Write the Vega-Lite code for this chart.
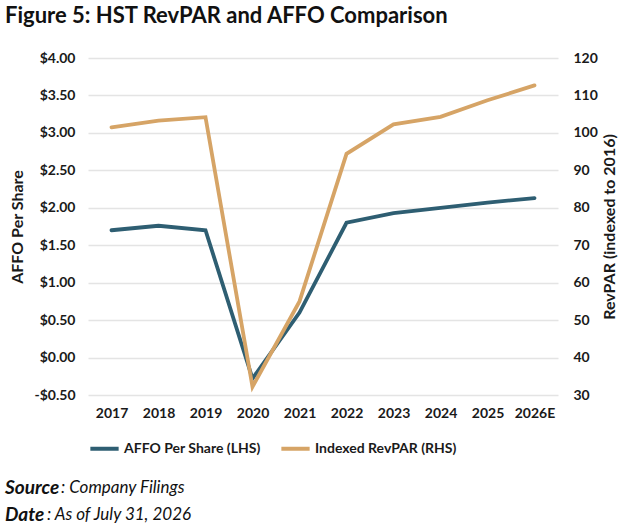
{
  "$schema": "https://vega.github.io/schema/vega-lite/v6.json",
  "background": "white",
  "padding": 5,
  "title": {
    "text": "Figure 5: HST RevPAR and AFFO Comparison",
    "anchor": "start",
    "font": "Lato",
    "fontSize": 22,
    "fontWeight": "bold",
    "color": "#111111",
    "offset": 23
  },
  "config": {
    "view": {"stroke": null},
    "font": "Lato"
  },
  "spacing": 17,
  "resolve": {"legend": {"color": "independent"}, "scale": {"color": "independent"}},
  "vconcat": [
    {
      "width": 470,
      "height": 337,
      "data": {
        "values": [
          {"year": "2017", "affo": 1.70, "revpar": 101.5},
          {"year": "2018", "affo": 1.76, "revpar": 103.3},
          {"year": "2019", "affo": 1.70, "revpar": 104.2},
          {"year": "2020", "affo": -0.28, "revpar": 32.2},
          {"year": "2021", "affo": 0.60, "revpar": 55.0},
          {"year": "2022", "affo": 1.80, "revpar": 94.4},
          {"year": "2023", "affo": 1.93, "revpar": 102.3},
          {"year": "2024", "affo": 2.00, "revpar": 104.3},
          {"year": "2025", "affo": 2.07, "revpar": 108.7},
          {"year": "2026E", "affo": 2.13, "revpar": 112.7}
        ]
      },
      "encoding": {
        "x": {
          "field": "year",
          "type": "ordinal",
          "sort": null,
          "scale": {"type": "point", "padding": 0.5},
          "axis": {
            "title": null,
            "labelAngle": 0,
            "domain": false,
            "ticks": false,
            "grid": false,
            "labelFont": "Lato",
            "labelFontWeight": "bold",
            "labelFontSize": 14,
            "labelColor": "#1a1a1a",
            "labelPadding": 11
          }
        }
      },
      "layer": [
        {
          "mark": {"type": "line", "strokeWidth": 3.8, "strokeCap": "round"},
          "encoding": {
            "y": {
              "field": "affo",
              "type": "quantitative",
              "scale": {"domain": [-0.5, 4], "nice": false, "zero": false},
              "axis": {
                "orient": "left",
                "title": "AFFO Per Share",
                "titleFont": "Lato",
                "titleFontSize": 16,
                "titleFontWeight": "bold",
                "titleColor": "#1a1a1a",
                "titlePadding": 8,
                "values": [-0.5, 0, 0.5, 1, 1.5, 2, 2.5, 3, 3.5, 4],
                "format": "$.2f",
                "labelExpr": "replace(datum.label, '−', '-')",
                "labelFont": "Lato",
                "labelFontWeight": "bold",
                "labelFontSize": 14,
                "labelColor": "#1a1a1a",
                "labelPadding": 13,
                "domain": false,
                "ticks": false,
                "grid": true,
                "gridColor": "#e4e4e4",
                "gridWidth": 1.5
              }
            },
            "color": {
              "datum": "AFFO Per Share (LHS)",
              "scale": {
                "domain": ["AFFO Per Share (LHS)", "Indexed RevPAR (RHS)"],
                "range": ["#2e5e72", "#d6a466"]
              },
              "legend": {
                "orient": "bottom",
                "direction": "horizontal",
                "title": null,
                "symbolType": "stroke",
                "symbolStrokeWidth": 4,
                "symbolSize": 800,
                "labelFont": "Lato",
                "labelFontSize": 14,
                "labelFontWeight": "bold",
                "labelColor": "#1a1a1a",
                "labelOffset": 3,
                "columnPadding": 12,
                "offset": 12
              }
            }
          }
        },
        {
          "mark": {"type": "line", "strokeWidth": 3.8, "strokeCap": "round"},
          "encoding": {
            "y": {
              "field": "revpar",
              "type": "quantitative",
              "scale": {"domain": [30, 120], "nice": false, "zero": false},
              "axis": {
                "orient": "right",
                "title": "RevPAR (indexed to 2016)",
                "titleAngle": -90,
                "titleFont": "Lato",
                "titleFontSize": 16,
                "titleFontWeight": "bold",
                "titleColor": "#1a1a1a",
                "titlePadding": 20,
                "values": [30, 40, 50, 60, 70, 80, 90, 100, 110, 120],
                "labelFont": "Lato",
                "labelFontWeight": "bold",
                "labelFontSize": 14,
                "labelColor": "#1a1a1a",
                "labelPadding": 15,
                "domain": false,
                "ticks": false,
                "grid": false
              }
            },
            "color": {
              "datum": "Indexed RevPAR (RHS)"
            }
          }
        }
      ],
      "resolve": {"scale": {"y": "independent"}}
    },
    {
      "width": 470,
      "height": 54,
      "data": {
        "values": [
          {"line": "1", "label": "Source", "rest": ": Company Filings"},
          {"line": "2", "label": "Date", "rest": ": As of July 31, 2026"}
        ]
      },
      "encoding": {
        "y": {"field": "line", "type": "ordinal", "scale": {"type": "point", "padding": 0.5}, "axis": null},
        "x": {"value": 0}
      },
      "layer": [
        {
          "mark": {"type": "text", "align": "left", "baseline": "middle", "font": "Lato", "fontSize": 19, "fontStyle": "italic", "fontWeight": "bold", "color": "#111111", "dx": -83},
          "encoding": {"text": {"field": "label"}}
        },
        {
          "transform": [{"filter": "datum.line == '1'"}],
          "mark": {"type": "text", "align": "left", "baseline": "middle", "font": "Lato", "fontSize": 17, "fontStyle": "italic", "color": "#111111", "dx": -27},
          "encoding": {"text": {"field": "rest"}}
        },
        {
          "transform": [{"filter": "datum.line == '2'"}],
          "mark": {"type": "text", "align": "left", "baseline": "middle", "font": "Lato", "fontSize": 17, "fontStyle": "italic", "color": "#111111", "dx": -41},
          "encoding": {"text": {"field": "rest"}}
        }
      ]
    }
  ]
}
